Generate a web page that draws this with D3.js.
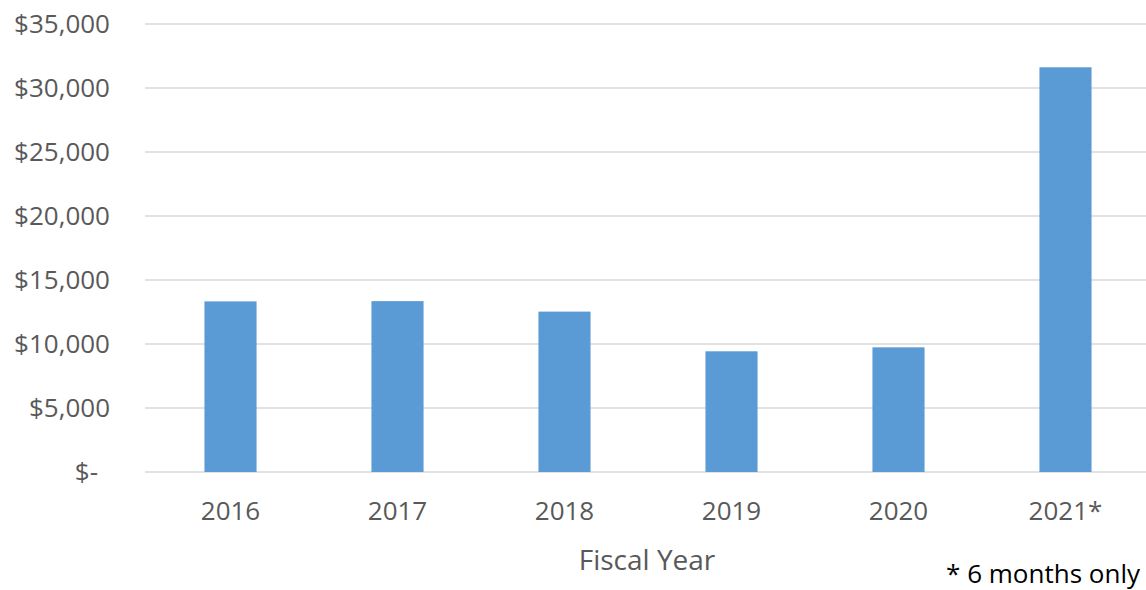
<!DOCTYPE html>
<html lang="en">
<head>
    <meta charset="UTF-8">
    <title>Fiscal Year Bar Chart</title>
    <script src="https://d3js.org/d3.v7.min.js"></script>
    <style>
        body {
            margin: 0;
            background: #fff;
        }
        svg {
            display: block;
            font-family: "Open Sans", sans-serif;
        }
        .axis text {
            fill: #595959;
            font-size: 26px;
            font-family: "Open Sans", sans-serif;
        }
        .axis .domain {
            display: none;
        }
    </style>
</head>
<body>
    <script>
        const width = 1146;
        const height = 590;

        // data
        const years = ["2016", "2017", "2018", "2019", "2020", "2021*"];
        const amounts = [13330, 13350, 12530, 9430, 9740, 31620];
        const yTicks = [0, 5000, 10000, 15000, 20000, 25000, 30000, 35000];

        const margin = { top: 24, right: -3, bottom: 118, left: 147 };
        const plotW = width - margin.left - margin.right;
        const plotH = height - margin.top - margin.bottom;

        const svg = d3.select("body")
            .append("svg")
            .attr("width", width)
            .attr("height", height);

        const g = svg.append("g")
            .attr("transform", `translate(${margin.left},${margin.top})`);

        const x = d3.scaleBand()
            .domain(years)
            .range([0, plotW])
            .paddingInner(0.688)
            .paddingOuter(0.344);

        const y = d3.scaleLinear()
            .domain([0, 35000])
            .range([plotH, 0]);

        // gridlines
        g.append("g")
            .selectAll("line")
            .data(yTicks)
            .join("line")
            .attr("x1", -2)
            .attr("x2", plotW)
            .attr("y1", d => y(d))
            .attr("y2", d => y(d))
            .attr("stroke", "#d9d9d9")
            .attr("stroke-width", 1.3);

        // y axis labels
        const yAxis = g.append("g")
            .attr("class", "axis")
            .call(d3.axisLeft(y)
                .tickValues(yTicks)
                .tickSize(0)
                .tickPadding(37)
                .tickFormat(d => d === 0 ? "$-" : "$" + d3.format(",")(d)));
        yAxis.selectAll("text")
            .attr("dx", d => d === 0 ? -12 : 0);

        // bars
        g.append("g")
            .selectAll("rect")
            .data(years.map((yr, i) => ({ year: yr, value: amounts[i] })))
            .join("rect")
            .attr("x", d => x(d.year))
            .attr("width", x.bandwidth())
            .attr("y", d => y(d.value))
            .attr("height", d => plotH - y(d.value))
            .attr("fill", "#5b9bd5");

        // x axis labels
        g.append("g")
            .attr("class", "axis")
            .attr("transform", `translate(0,${plotH})`)
            .call(d3.axisBottom(x).tickSize(0).tickPadding(30));

        // axis title
        svg.append("text")
            .attr("x", 647)
            .attr("y", 570)
            .attr("text-anchor", "middle")
            .attr("fill", "#595959")
            .attr("font-size", 28)
            .text("Fiscal Year");

        // footnote
        svg.append("text")
            .attr("x", 1140)
            .attr("y", 583)
            .attr("text-anchor", "end")
            .attr("fill", "#000")
            .attr("font-size", 26)
            .text("* 6 months only");
    </script>
</body>
</html>
